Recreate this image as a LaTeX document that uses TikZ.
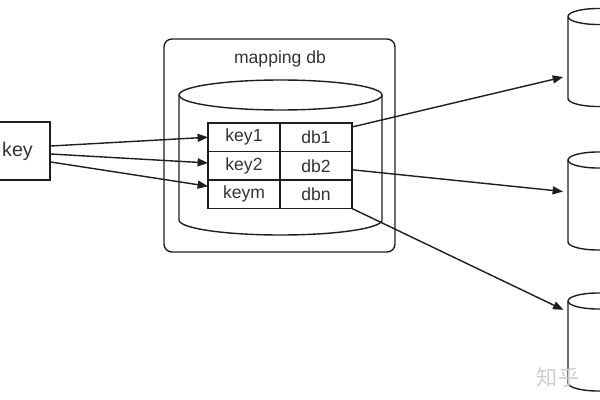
\documentclass[tikz,border=0pt]{standalone}
\usepackage{fontspec}
\setmainfont{Liberation Sans}
\newfontfamily\cjk{Noto Sans CJK SC}
\usetikzlibrary{arrows.meta, positioning, calc}
\definecolor{linegray}{RGB}{30, 30, 30}
\definecolor{textgray}{RGB}{51, 51, 51}
\definecolor{markgray}{RGB}{205, 205, 205}

\newcommand{\dbcylinder}[3]{%
  \draw[cyl] ($(#1.north)+(0,#3)$) ellipse [x radius=#2, y radius=#3];
  \draw[cyl] ($(#1.north west)+(0,#3)$) -- ($(#1.south west)-(0,#3)$)
    arc[start angle=180, end angle=0, x radius=#2, y radius=#3]
    -- ($(#1.north east)+(0,#3)$);
}

\begin{document}
\begin{tikzpicture}[
    x=0.25mm, y=-0.25mm,
    font=\fontsize{12.5}{15}\selectfont, text=textgray,
    box/.style={draw=linegray, line width=1pt, inner sep=0, align=center},
    cell/.style={draw=linegray, line width=1pt, minimum width=18mm, minimum height=7.125mm, inner sep=0, outer sep=0},
    cylbox/.style={inner sep=0, outer sep=0, minimum width=15mm, minimum height=24.5mm},
    cyl/.style={draw=linegray, line width=1pt},
    arrow/.style={-{Triangle[length=2.6mm, width=2mm]}, line width=1pt, draw=linegray}
]
\useasboundingbox (0,0) rectangle (600,400);

\node[box, minimum width=16.25mm, minimum height=14.5mm, font=\fontsize{14}{16}\selectfont] (key) at (17.5,151) {key};

\node[box, rounded corners=2mm, minimum width=57.75mm, minimum height=53.25mm] (frame) at (279.5,145.5) {};
\node[anchor=base] (title) at (280,63) {mapping db};

\node[cylbox, minimum width=50.75mm, minimum height=38.75mm] (mapcyl) at (280.5,157.5) {};
\dbcylinder{mapcyl}{101.5}{15}

\node[cell] (k1) at (244,137.25) {key1};
\node[cell, right=0pt of k1] (d1) {db1};
\node[cell, below=0pt of k1] (k2) {key2};
\node[cell, right=0pt of k2] (d2) {db2};
\node[cell, below=0pt of k2] (km) {keym};
\node[cell, right=0pt of km] (dn) {dbn};

\foreach \n/\y in {srv1/57.5, srv2/201, srv3/342} {
  \node[cylbox] (\n) at (598,\y) {};
  \dbcylinder{\n}{30}{8}
}

\draw[arrow] ([yshift=1.25mm]key.east) -- (k1.west);
\draw[arrow] ([yshift=-0.75mm]key.east) -- ([yshift=0.7mm]k2.west);
\draw[arrow] ([yshift=-2.75mm]key.east) -- ([yshift=2mm]km.west);

\draw[arrow, shorten >=1.25mm] ([yshift=-1mm]d1.north east) -- ([yshift=-4.6mm]srv1.west);
\draw[arrow, shorten >=1.25mm] ([yshift=-1mm]d2.east) -- ([yshift=2.25mm]srv2.west);
\draw[arrow, shorten >=1.25mm] (dn.south east) -- ([yshift=7.5mm]srv3.west);

\node[text=markgray, font=\cjk\fontsize{15}{15}\selectfont] (mark) at (558,377) {知乎};

\end{tikzpicture}
\end{document}
